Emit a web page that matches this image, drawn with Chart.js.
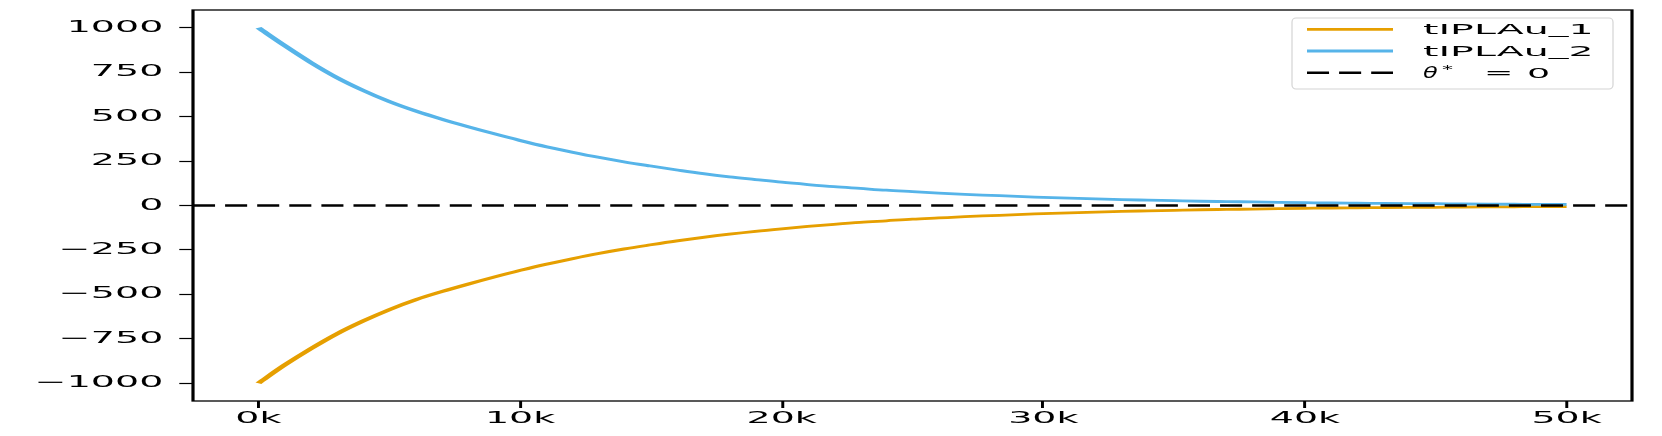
<!DOCTYPE html>
<html>
<head>
<meta charset="utf-8">
<script src="https://cdn.jsdelivr.net/npm/chart.js@4.4.1/dist/chart.umd.min.js"></script>
<style>
  html, body { margin: 0; padding: 0; background: #fff; }
  canvas { display: block; }
</style>
</head>
<body>
<canvas id="grafico" width="1662" height="436" style="width:1662px;height:436px"></canvas>
<script>
// iteraciones (eje x)
var pasos = [0, 1000, 2000, 3000, 4000, 5000, 6000, 7000, 8000, 9000,
  10000, 11000, 12000, 13000, 14000, 15000, 16000, 17000, 18000, 19000,
  20000, 21000, 22000, 23000, 24000, 25000, 26000, 27000, 28000, 29000,
  30000, 31000, 32000, 33000, 34000, 35000, 36000, 37000, 38000, 39000,
  40000, 41000, 42000, 43000, 44000, 45000, 46000, 47000, 48000, 49000, 50000];

// valores
var tiplau1 = [-1000, -898, -806, -722, -650, -586, -531, -485, -443, -403,
  -365, -330, -299, -270, -244, -221, -199, -179, -161, -145,
  -131, -118, -106, -95, -86, -77, -70, -63, -57, -51,
  -46, -41, -37, -33, -30, -27, -24, -22, -20, -18,
  -16, -14, -13, -12, -11, -10, -9, -8, -7, -6, -6];
var tiplau2 = [1000, 900, 805, 720, 648, 585, 532, 486, 444, 404,
  366, 331, 300, 271, 245, 222, 200, 179, 161, 146,
  131, 118, 106, 96, 86, 78, 70, 63, 57, 51,
  46, 41, 37, 33, 30, 27, 24, 22, 20, 18,
  16, 14, 13, 12, 11, 10, 9, 8, 7, 6, 6];

var etiquetas = ['tIPLAu_1', 'tIPLAu_2', 'θ* = 0'];
var referencia = 0;
var limitesX = [-2500, 52500];
var limitesY = [-1100, 1100];
var ticksX = [0, 10000, 20000, 30000, 40000, 50000];
var ticksY = [-1000, -750, -500, -250, 0, 250, 500, 750, 1000];

// la figura original esta estirada en horizontal
var ANCHO = 1662;
var SX = 2.45;
var FUENTE = 'DejaVu Sans';

function puntos(ys) {
  return pasos.map(function (x, i) { return { x: x, y: ys[i] }; });
}

function textoEstirado(ctx, txt, x, y, f) {
  ctx.save();
  ctx.translate(x, y);
  ctx.scale(f, 1);
  ctx.fillText(txt, 0, 0);
  ctx.restore();
}

function dibujarLeyenda(chart, area) {
  var ctx = chart.ctx;
  var w = 321, h = 71;
  var x0 = area.right * SX - 19 - w;
  var y0 = area.top + 8;
  ctx.save();
  ctx.beginPath();
  ctx.roundRect(x0, y0, w, h, 4);
  ctx.fillStyle = 'rgba(255,255,255,0.8)';
  ctx.fill();
  ctx.lineWidth = 1.2;
  ctx.strokeStyle = '#d4d4d4';
  ctx.stroke();

  chart.data.datasets.forEach(function (ds, i) {
    var y = y0 + 11.3 + i * 21.7;
    ctx.beginPath();
    ctx.setLineDash(ds.borderDash ? ds.borderDash.map(function (d) { return d * SX; }) : []);
    ctx.lineCap = 'butt';
    ctx.strokeStyle = ds.borderColor;
    ctx.lineWidth = ds.borderWidth;
    ctx.moveTo(x0 + 15, y);
    ctx.lineTo(x0 + 101, y);
    ctx.stroke();
    ctx.setLineDash([]);

    ctx.fillStyle = '#000';
    ctx.textBaseline = 'alphabetic';
    ctx.textAlign = 'left';
    var tx = x0 + 131, ty = y + 5.1;
    if (ds.label.charAt(0) === 'θ') {
      // theta en cursiva, asterisco como superindice
      ctx.font = 'italic 15.5px ' + FUENTE;
      textoEstirado(ctx, 'θ', tx, ty + 0.5, 1.55);
      ctx.font = '10px ' + FUENTE;
      textoEstirado(ctx, '*', tx + 19, ty - 5, 2.2);
      ctx.font = '14px ' + FUENTE;
      textoEstirado(ctx, '=', tx + 61, ty, 2.5);
      textoEstirado(ctx, '0', tx + 104, ty, 2.6);
    } else {
      ctx.font = '14px ' + FUENTE;
      textoEstirado(ctx, ds.label, tx, ty, SX * 1.15);
    }
  });
  ctx.restore();
}

var estirar = {
  id: 'estirar',
  beforeLayout: function (chart) {
    chart.width = ANCHO / SX;
  },
  beforeDraw: function (chart) {
    chart.ctx.save();
    chart.ctx.scale(SX, 1);
  },
  afterDraw: function (chart) {
    var ctx = chart.ctx, a = chart.chartArea;
    // marco (spines)
    ctx.setLineDash([]);
    ctx.strokeStyle = '#000';
    ctx.lineWidth = 1.3;
    ctx.strokeRect(a.left, a.top, a.right - a.left, a.bottom - a.top);
    ctx.restore();
    dibujarLeyenda(chart, a);
  }
};

function sinRelleno(s) {
  s.paddingTop = 0;
  s.paddingBottom = 0;
  s.paddingLeft = 0;
  s.paddingRight = 0;
}

function grafico() {
  var canvas = document.getElementById('grafico');
  var ejeComun = {
    grid: { drawOnChartArea: false, drawTicks: true, tickWidth: 1.2, tickColor: '#000' },
    border: { display: false }
  };
  new Chart(canvas.getContext('2d'), {
    type: 'line',
    data: {
      datasets: [
        { label: etiquetas[0], data: puntos(tiplau1), borderColor: '#E69F00', borderWidth: 2.8,
          pointRadius: 0, cubicInterpolationMode: 'monotone', order: 2 },
        { label: etiquetas[1], data: puntos(tiplau2), borderColor: '#56B4E9', borderWidth: 2.8,
          pointRadius: 0, cubicInterpolationMode: 'monotone', order: 1 },
        { label: etiquetas[2], data: limitesX.map(function (x) { return { x: x, y: referencia }; }),
          borderColor: '#000', borderWidth: 2.6, borderDash: [9, 4.1], borderCapStyle: 'butt',
          pointRadius: 0, order: 0 }
      ]
    },
    options: {
      responsive: false,
      animation: false,
      devicePixelRatio: 1,
      layout: { padding: { top: 10, right: (ANCHO - 1632) / SX, left: 0, bottom: 0 } },
      plugins: { legend: { display: false }, tooltip: { enabled: false } },
      scales: {
        x: {
          type: 'linear',
          min: limitesX[0],
          max: limitesX[1],
          afterBuildTicks: function (s) { s.ticks = ticksX.map(function (v) { return { value: v }; }); },
          afterFit: function (s) { s.height = 35; sinRelleno(s); },
          grid: Object.assign({}, ejeComun.grid, { tickLength: 7 }),
          border: ejeComun.border,
          ticks: {
            color: '#000', padding: 1.5, maxRotation: 0, autoSkip: false,
            font: { family: FUENTE, size: 15.5 },
            callback: function (v) { return (v / 1000) + 'k'; }
          }
        },
        y: {
          type: 'linear',
          min: limitesY[0],
          max: limitesY[1],
          afterBuildTicks: function (s) { s.ticks = ticksY.map(function (v) { return { value: v }; }); },
          afterFit: function (s) { s.width = 193 / SX; sinRelleno(s); },
          grid: Object.assign({}, ejeComun.grid, { tickLength: 5.6 }),
          border: ejeComun.border,
          ticks: {
            color: '#000', padding: 6.5, autoSkip: false,
            font: { family: FUENTE, size: 15.5 },
            callback: function (v) { return v < 0 ? '\u2212' + (-v) : String(v); }
          }
        }
      }
    },
    plugins: [estirar]
  });
}

grafico();
</script>
</body>
</html>
